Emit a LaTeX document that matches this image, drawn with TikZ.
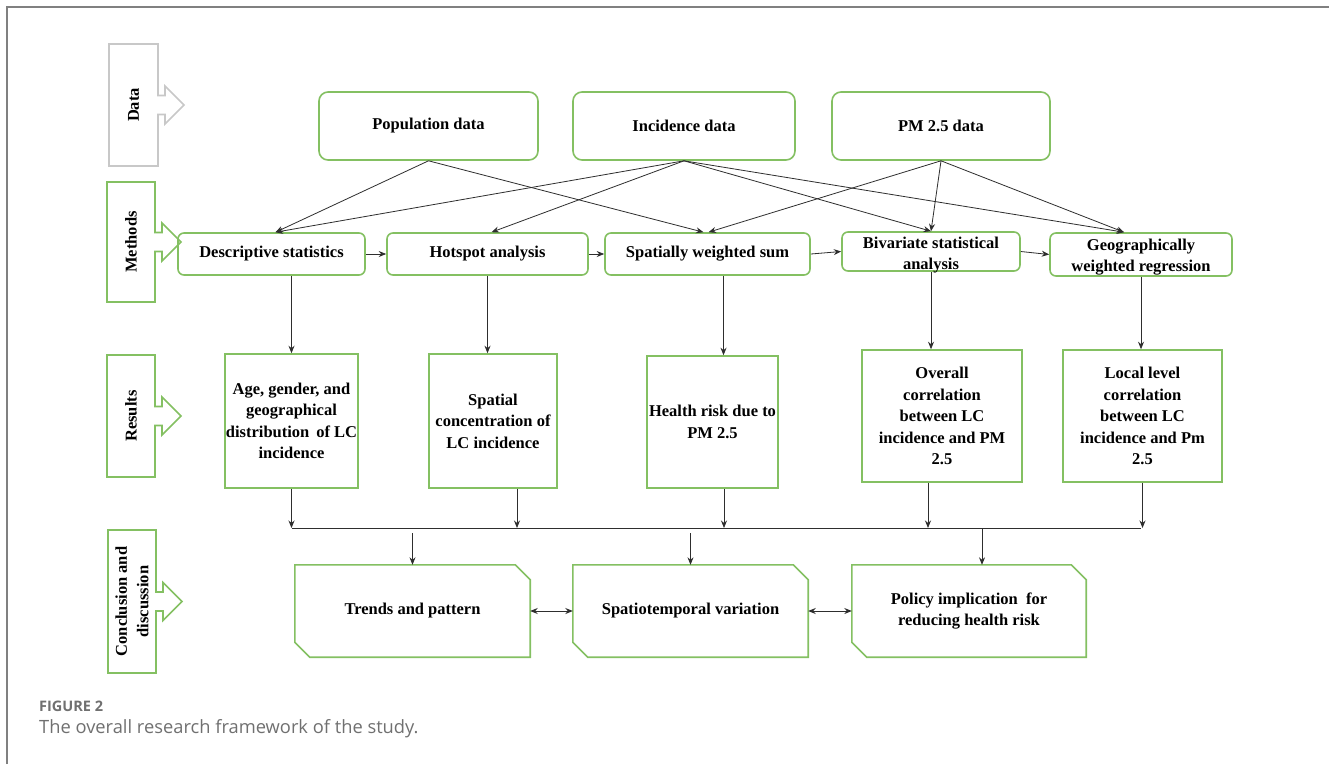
\documentclass[tikz,border=0pt]{standalone}
\usepackage{fontspec}
\setmainfont{Liberation Serif}
\newfontfamily\capfont{Open Sans}
\usetikzlibrary{arrows.meta,calc}
\definecolor{gr}{HTML}{84C062}
\definecolor{lg}{HTML}{C8C8C8}
\definecolor{ar}{HTML}{2E2E2E}
\definecolor{capc}{HTML}{707070}
\definecolor{frame}{HTML}{808080}
\newcommand{\sidebox}[5]{%
  \draw[#1,line width=1.6pt,line join=miter]
    (#2,#3) -- (#4,#3) -- (#4,{(#3+#5)/2-9.5}) -- ({#4+7},{(#3+#5)/2-9.5})
    -- ({#4+7},{(#3+#5)/2-19}) -- ({#4+26},{(#3+#5)/2}) -- ({#4+7},{(#3+#5)/2+19})
    -- ({#4+7},{(#3+#5)/2+9.5}) -- (#4,{(#3+#5)/2+9.5}) -- (#4,#5) -- (#2,#5) -- cycle;}
\newcommand{\chamf}[1]{%
  \draw[gr,line width=1.6pt,line join=miter]
    (#1.north west) -- ([xshift=-15pt]#1.north east) -- ([yshift=-15pt]#1.north east)
    -- (#1.south east) -- ([xshift=15pt]#1.south west) -- ([yshift=15pt]#1.south west) -- cycle;}
\begin{document}
\begin{tikzpicture}[x=1pt,y=-1pt,
  txt/.style={font=\fontsize{16.5}{21.5}\selectfont\bfseries,align=center,inner sep=1pt},
  box/.style={txt,draw=gr,line width=1.6pt},
  dbox/.style={box,rounded corners=9pt},
  mbox/.style={box,rounded corners=6pt},
  rbox/.style={box},
  cbox/.style={txt},
  side/.style={txt,rotate=90},
  conn/.style={draw=ar,line width=0.8pt,-{Stealth[length=7.5pt,width=6pt]}},
  dconn/.style={draw=ar,line width=0.8pt,{Stealth[length=7.5pt,width=6pt]}-{Stealth[length=7.5pt,width=6pt]}},
  plain/.style={draw=ar,line width=0.8pt}]
\useasboundingbox (0,0) rectangle (1329,764);
\fill[white] (0,0) rectangle (1329,764);
\draw[frame,line width=2pt] (7,764) -- (7,7) -- (1329,7);

% side labels
\sidebox{lg}{109}{44}{158}{166}
\node[side] (lData) at (133.5,105) {Data};
\sidebox{gr}{107}{182}{155}{302}
\node[side] (lMeth) at (131,242) {Methods};
\sidebox{gr}{107}{355}{155}{477}
\node[side] (lRes) at (131,416) {Results};
\sidebox{gr}{108}{530}{156}{673}
\node[side] (lCon) at (132,601.5) {Conclusion and\\discussion};

% data
\node[dbox,minimum width=219pt,minimum height=68pt] (pop) at (428.5,126) {Population data};
\node[dbox,minimum width=222pt,minimum height=68pt] (inc) at (684,126) {Incidence data};
\node[dbox,minimum width=218pt,minimum height=68pt] (pm) at (941,126) {PM 2.5 data};

% methods
\node[mbox,minimum width=187pt,minimum height=42pt] (desc) at (271.5,254) {Descriptive statistics};
\node[mbox,minimum width=201pt,minimum height=42pt] (hot) at (487.5,254) {Hotspot analysis};
\node[mbox,minimum width=205pt,minimum height=42pt] (sws) at (707.5,254) {Spatially weighted sum};
\node[mbox,minimum width=178pt,minimum height=39pt] (biv) at (931,251.5) {};
\node[txt] (bivt) at (931,255) {Bivariate statistical\\analysis};
\node[mbox,minimum width=182pt,minimum height=43pt] (geo) at (1141,254.5) {};
\node[txt] (geot) at (1141,257) {Geographically\\weighted regression};

% results
\node[rbox,minimum width=131pt,minimum height=134pt] (age) at (291.5,421) {Age, gender, and\\geographical\\distribution\, of LC\\incidence};
\node[rbox,minimum width=128pt,minimum height=134pt] (spc) at (493,421) {Spatial\\concentration of\\LC incidence};
\node[rbox,minimum width=131pt,minimum height=132pt] (hr) at (712.5,422) {Health risk due to\\PM 2.5};
\node[rbox,minimum width=160pt,minimum height=132pt] (oc) at (942,416) {Overall\\correlation\\between LC\\incidence and PM\\2.5};
\node[rbox,minimum width=159pt,minimum height=132pt] (ll) at (1142.5,416) {Local level\\correlation\\between LC\\incidence and Pm\\2.5};

% conclusions
\node[cbox,minimum width=235pt,minimum height=92pt] (tp) at (412.5,611) {Trends and pattern};
\chamf{tp}
\node[cbox,minimum width=235pt,minimum height=92pt] (stv) at (690.5,611) {Spatiotemporal variation};
\chamf{stv}
\node[cbox,minimum width=234pt,minimum height=92pt] (pol) at (969,611) {Policy implication\ \ for\\reducing health risk};
\chamf{pol}

% data -> methods
\draw[conn] (pop.south) -- ([xshift=4pt]desc.north);
\draw[conn] (pop.south) -- ([xshift=-4pt]sws.north);
\draw[conn] (inc.south) -- ([xshift=4pt]desc.north);
\draw[conn] (inc.south) -- ([xshift=4pt]hot.north);
\draw[conn] (inc.south) -- (biv.north);
\draw[conn] (inc.south) -- ([xshift=-17pt]geo.north);
\draw[conn] (pm.south) -- ([xshift=1pt]sws.north);
\draw[conn] (pm.south) -- (biv.north);
\draw[conn] (pm.south) -- ([xshift=-17pt]geo.north);

% methods chain
\draw[conn] (desc.east) -- (hot.west);
\draw[conn] (hot.east) -- (sws.west);
\draw[conn] (sws.east) -- (biv.west);
\draw[conn] (biv.east) -- (geo.west);

% methods -> results
\draw[conn] (desc.south -| age.north) -- (age.north);
\draw[conn] (hot.south) -- (hot.south |- spc.north);
\draw[conn] ([xshift=16pt]sws.south) -- ([xshift=16pt]sws.south |- hr.north);
\draw[conn] (biv.south) -- (biv.south |- oc.north);
\draw[conn] (geo.south) -- (geo.south |- ll.north);

% results -> bus
\coordinate (busL) at (292,528);
\coordinate (busR) at (1141,528);
\draw[plain] (busL) -- (busR);
\draw[conn] (age.south) -- (age.south |- busL);
\draw[conn] ([xshift=24pt]spc.south) -- ([xshift=24pt]spc.south |- busL);
\draw[conn] ([xshift=11.5pt]hr.south) -- ([xshift=11.5pt]hr.south |- busL);
\draw[conn] ([xshift=-14pt]oc.south) -- ([xshift=-14pt]oc.south |- busL);
\draw[conn] (ll.south) -- (ll.south |- busL);

% bus -> conclusions
\draw[conn] ([yshift=-5pt]tp.north |- busL) -- (tp.north);
\draw[conn] ([yshift=-5pt]stv.north |- busL) -- (stv.north);
\draw[conn] ([xshift=13pt]pol.north |- busL) -- ([xshift=13pt]pol.north);

% conclusions links
\draw[dconn] (tp.east) -- (stv.west);
\draw[dconn] (stv.east) -- (pol.west);

% caption
\node[anchor=west,inner sep=0pt,font=\capfont\bfseries\fontsize{14.5}{17}\selectfont,text=capc] (fig) at (39,706) {FIGURE 2};
\node[anchor=west,inner sep=0pt,font=\capfont\fontsize{18.3}{21}\selectfont,text=capc] (capt) at (39,729) {The overall research framework of the study.};
\end{tikzpicture}
\end{document}
